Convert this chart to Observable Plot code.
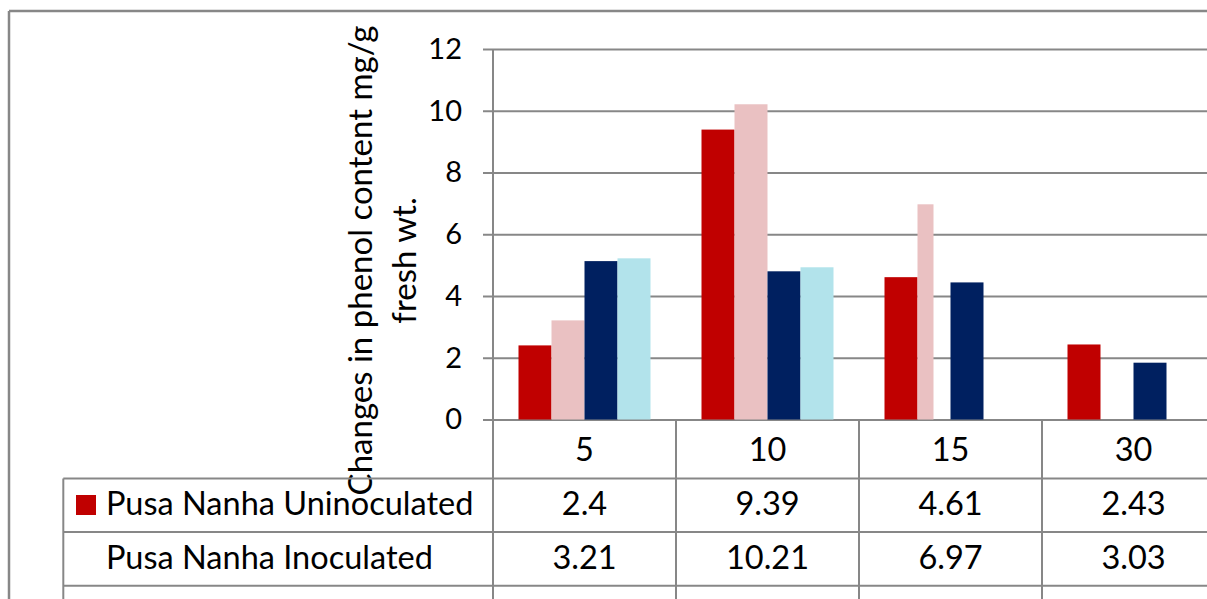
<!DOCTYPE html>
<html>
<head>
<meta charset="utf-8">
<script src="https://cdn.jsdelivr.net/npm/d3@7"></script>
<script src="https://cdn.jsdelivr.net/npm/@observablehq/plot@0.6"></script>
<style>
  html, body { margin: 0; padding: 0; background: #fff; }
  #chart { position: relative; width: 1207px; height: 599px; overflow: hidden; background: #fff; }
</style>
</head>
<body>
<div id="chart"></div>
<script>
// Days after treatment (category axis)
const days = ["5", "10", "15", "30"];

// Phenol content, mg/g fresh weight
const nanhaUninoculated = [2.4, 9.39, 4.61, 2.43];
const nanhaInoculated = [3.21, 10.21, 6.97, 3.03];
const series3 = [5.13, 4.80, 4.44, 1.84];
const series4 = [5.22, 4.93, null, null];

const seriesKeys = ["nanhaUninoculated", "nanhaInoculated", "series3", "series4"];
const seriesColors = ["#C00000", "#EAC1C2", "#002060", "#B2E3EB"];

// Table rows shown under the chart
const tableRows = [
  { label: "Pusa Nanha Uninoculated", values: nanhaUninoculated, key: true },
  { label: "Pusa Nanha Inoculated", values: nanhaInoculated, key: false }
];

const yTicks = [0, 2, 4, 6, 8, 10, 12];
const yTitle = "Changes in phenol content mg/g\nfresh wt.";

// Long-format bar records
const valuesBySeries = { nanhaUninoculated, nanhaInoculated, series3, series4 };
const bars = days.flatMap((day, i) =>
  seriesKeys.map(series => ({ day, series, value: valuesBySeries[series][i] }))
).filter(d => d.value != null);

const full = bars.filter(d => !(d.series === "nanhaInoculated" && (d.day === "15" || d.day === "30")));
const narrow = bars.filter(d => d.series === "nanhaInoculated" && d.day === "15");

const W = 1226, H = 599;
const grid = "#878787";
const font = "Lato, sans-serif";

const chart = Plot.plot({
  width: W,
  height: H,
  marginTop: 49,
  marginBottom: 179.5,
  marginLeft: 491.5,
  marginRight: 0,
  style: { fontFamily: font, maxWidth: "none", overflow: "hidden", background: "#fff" },
  fx: { domain: days, padding: 0, axis: null },
  x: { domain: seriesKeys, paddingInner: 0, paddingOuter: 0.72, axis: null },
  y: { domain: [0, 12], axis: null },
  color: { domain: seriesKeys, range: seriesColors },
  marks: [
    Plot.gridY(yTicks, { stroke: grid, strokeOpacity: 1, strokeWidth: 2 }),
    Plot.barY(full, { fx: "day", x: "series", y: "value", fill: "series" }),
    Plot.barY(narrow, { fx: "day", x: "series", y: "value", fill: "series", insetRight: 17 }),
    Plot.axisY(yTicks, {
      anchor: "left", tickSize: 10, tickPadding: 21.5, stroke: grid, strokeWidth: 2,
      fill: "#000", fontSize: 29, label: null, tickFormat: d => String(d)
    }),
    Plot.text([{ day: "5" }], {
      fx: "day", text: () => yTitle, frameAnchor: "left", textAnchor: "middle", lineAnchor: "middle",
      rotate: -90, dx: -113.7, dy: 25.75, fontSize: 33, lineHeight: 1.35, fill: "#000"
    })
  ]
});

document.getElementById("chart").appendChild(chart);

// Data table drawn under the plot, aligned on the fx bands
const svg = d3.select(chart);
const fx = chart.scale("fx");
const y = chart.scale("y");
const y0 = y.apply(0);
const yTop = y.apply(12);
const band = fx.bandwidth;
const xRight = fx.apply(days[days.length - 1]) + band;
const legendLeft = 63.3;
const headerBottom = y0 + 59;
const rowHeight = 53.6;

const g = svg.append("g").attr("stroke", grid).attr("stroke-width", 2).attr("fill", "none");
// value axis line
g.append("line").attr("x1", fx.apply(days[0])).attr("x2", fx.apply(days[0]))
  .attr("y1", yTop).attr("y2", H);
days.slice(1).forEach(d => {
  g.append("line").attr("x1", fx.apply(d)).attr("x2", fx.apply(d)).attr("y1", y0).attr("y2", H);
});
g.append("line").attr("x1", legendLeft).attr("x2", legendLeft).attr("y1", headerBottom).attr("y2", H);
[0, 1, 2].forEach(i => {
  const yy = headerBottom + i * rowHeight;
  g.append("line").attr("x1", legendLeft).attr("x2", xRight).attr("y1", yy).attr("y2", yy);
});
// outer chart border
g.append("line").attr("x1", 9).attr("x2", W).attr("y1", 11).attr("y2", 11).attr("stroke-width", 2.5);
g.append("line").attr("x1", 9).attr("x2", 9).attr("y1", 11).attr("y2", H).attr("stroke-width", 2.5);

const t = svg.append("g").attr("font-family", font).attr("fill", "#000").attr("font-size", 32.5);
days.forEach(d => {
  t.append("text").attr("x", fx.apply(d) + band / 2).attr("y", y0 + 41)
    .attr("text-anchor", "middle").text(d);
});
tableRows.forEach((row, r) => {
  const base = headerBottom + r * rowHeight + 36.5;
  if (row.key) {
    svg.append("rect").attr("x", 76).attr("y", base - 20).attr("width", 20).attr("height", 20)
      .attr("fill", seriesColors[0]);
  }
  t.append("text").attr("x", 106).attr("y", base).attr("text-anchor", "start").text(row.label);
  row.values.forEach((v, i) => {
    t.append("text").attr("x", fx.apply(days[i]) + band / 2).attr("y", base)
      .attr("text-anchor", "middle").text(String(v));
  });
});
</script>
</body>
</html>
